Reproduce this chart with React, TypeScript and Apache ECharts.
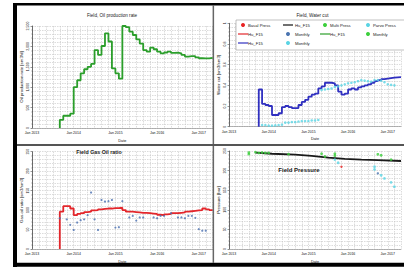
import React, { useEffect, useRef } from 'react';
import * as echarts from 'echarts';

// ---- data (months as YYYY-MM) ----
const OIL_START = '2013-09';
const oilRate = [200, 300, 300, 350, 1000, 1170, 1340, 1440, 1500, 1570, 1910, 1790, 2010, 2320, 2120,
  1460, 1340, 1210, 2500, 2470, 2360, 2280, 2170, 2070, 1910, 1870, 1970, 1930, 1870, 1830,
  1850, 1870, 1840, 1845, 1830, 1790, 1750, 1760, 1760, 1730, 1710, 1705, 1705, 1720];

const WC_START = '2013-10';
const waterCut = [0.36, 0.22, 0.21, 0.20, 0.113, 0.113, 0.13, 0.19, 0.20, 0.19, 0.18, 0.18,
  0.21, 0.24, 0.26, 0.29, 0.31, 0.32, 0.37, 0.39, 0.425, 0.425, 0.42, 0.40, 0.34, 0.31, 0.32,
  0.36, 0.37, 0.36, 0.38, 0.39, 0.40, 0.41, 0.425, 0.44, 0.45, 0.46, 0.465, 0.47, 0.475, 0.478, 0.48];

const WC_OBS_START = '2013-11';
const waterCutMonthly = [0.016, 0.016, 0.01, 0.01, 0.013, 0.016, 0.02, 0.04, 0.04, 0.045, 0.045,
  0.05, 0.055, 0.055, 0.055, 0.06, 0.06, 0.065,
  0.355, 0.36, 0.365, 0.37, 0.385, 0.39, 0.40, 0.41, 0.42, 0.425, 0.43, 0.44, 0.45, 0.445, 0.44,
  0.435, 0.45, 0.45, 0.445, 0.43, 0.41, 0.405, 0.40];

const GOR_START = '2013-09';
const gor = [96, 110, 110, 104, 87, 90, 92, 95, 96, 99, 100, 102, 103, 104, 104, 105, 105, 106,
  100, 96, 96, 95, 94, 93, 93, 92, 91, 90, 88, 87, 89, 90, 92, 92, 93, 94, 96, 97, 98, 99, 100, 104, 102, 100];

const gorObsDates = ['2013-09', '2013-11', '2013-12', '2014-01', '2014-02', '2014-03', '2014-04', '2014-05',
  '2014-06', '2014-07', '2014-08', '2014-09', '2014-10', '2014-11', '2014-12', '2015-01', '2015-02', '2015-03',
  '2015-05', '2015-06', '2015-07', '2015-08', '2015-09', '2015-12', '2016-01', '2016-02', '2016-03', '2016-05',
  '2016-07', '2016-08', '2016-09', '2016-10', '2016-11', '2016-12', '2017-01', '2017-02', '2017-03'];
const gorObs = [79, 76, 62, 49, 68, 74, 76, 87, 145, 76, 49, 126, 122, 123, 126, 55, 56, 123,
  81, 85, 73, 81, 81, 81, 79, 85, 85, 92, 81, 81, 79, 85, 85, 80, 51, 47, 47];

const presSimDates = ['2013-09', '2014-02', '2014-09', '2015-02', '2015-07', '2015-12', '2016-05', '2016-10', '2017-05'];
const presSim = [246, 243, 240.5, 237.5, 233, 230, 228, 226.5, 224.5];

const multiDates = ['2013-07', '2013-07', '2013-09', '2013-10', '2013-11', '2013-12', '2014-01', '2014-07',
  '2015-05', '2015-06', '2015-09', '2015-09', '2016-10', '2016-11', '2017-02'];
const multiPress = [246, 242, 247, 245, 246, 245, 245, 242, 243, 236, 243, 238, 241.5, 239, 228];

const parvoDates = ['2015-09', '2015-10', '2016-09', '2016-09', '2016-11', '2016-12', '2017-02', '2017-03'];
const parvoPress = [228, 220, 210, 203, 188, 180, 170, 159];

const monthlyPresDates = ['2016-10'];
const monthlyPress = [193];

const basalDates = ['2015-11'];
const basalPress = [210];

const legendItems = [
  { name: 'Basal Press', kind: 'dot', color: '#e82222' },
  { name: 'Hu_F15', kind: 'line', color: '#111111' },
  { name: 'Multi Press', kind: 'dot', color: '#3ccf3c' },
  { name: 'Parvo Press', kind: 'dot', color: '#5ad4e4' },
  { name: 'Hu_F15', kind: 'line', color: '#e3262b' },
  { name: 'Monthly', kind: 'dot', color: '#4a74b0' },
  { name: 'Hu_F15', kind: 'line', color: '#2b9e2b' },
  { name: 'Monthly', kind: 'dot', color: '#3ccf3c' },
  { name: 'Hu_F15', kind: 'line', color: '#3030c0' },
  { name: 'Monthly', kind: 'dot', color: '#5ad4e4' },
];

// ---- helpers ----
const mi = (s: string) => {
  const [y, m] = s.split('-').map(Number);
  return (y - 2013) * 12 + (m - 1);
};
const stepData = (start: string, values: number[]) => {
  const s = mi(start);
  const pts: number[][] = [[s, 0]];
  values.forEach((v, i) => pts.push([s + i, v]));
  pts.push([s + values.length, values[values.length - 1]]);
  return pts;
};
const seqData = (start: string, values: number[]) => values.map((v, i) => [mi(start) + i, v]);
const pairData = (dates: string[], values: number[]) => dates.map((d, i) => [mi(d), values[i]]);

const FONT = 'Arial, sans-serif';
const gridLine = { show: true, lineStyle: { color: '#c4c4c4', width: 0.6, type: [1.5, 1] as any } };

const xAxisCfg = (i: number) => ({
  type: 'value', gridIndex: i, min: 0, max: 52, interval: 2,
  axisLine: { show: true, onZero: false, lineStyle: { color: '#888', width: 0.6 } },
  axisTick: { show: false },
  axisLabel: {
    fontSize: 3.5, color: '#111', margin: 3, fontFamily: FONT,
    formatter: (v: number) => (v % 12 === 0 ? 'Jan ' + (2013 + v / 12) : ''),
  },
  splitLine: gridLine,
  name: 'Date', nameLocation: 'middle', nameGap: 10.5,
  nameTextStyle: { fontSize: 3.8, color: '#111', fontFamily: FONT },
});

const yAxisCfg = (i: number, max: number, interval: number, name: string) => ({
  type: 'value', gridIndex: i, min: 0, max, interval,
  axisLine: { show: true, lineStyle: { color: '#333', width: 0.7 } },
  axisTick: { show: true, length: 1.5, lineStyle: { color: '#333', width: 0.5 } },
  minorTick: { show: true, splitNumber: 5, length: 0.8, lineStyle: { color: '#555', width: 0.4 } },
  minorSplitLine: gridLine,
  splitLine: gridLine,
  axisLabel: { rotate: 90, fontSize: 3.5, color: '#111', margin: 2.5, fontFamily: FONT },
  name, nameLocation: 'middle', nameGap: 9, nameRotate: 90,
  nameTextStyle: { fontSize: 4.4, color: '#111', fontFamily: FONT },
});

const lineSeries = (name: string, idx: number, data: number[][], color: string, step: any) => ({
  name, type: 'line', xAxisIndex: idx, yAxisIndex: idx, data, step, symbol: 'none',
  lineStyle: { color, width: 1.8 }, z: 3,
});
const dotSeries = (name: string, idx: number, data: number[][], color: string, size: number) => ({
  name, type: 'scatter', xAxisIndex: idx, yAxisIndex: idx, data, symbolSize: size,
  itemStyle: { color }, z: 4,
});

const colX = [243, 288, 325, 368];
const textX = [248, 295, 330, 373];
const rowY = [25, 34, 43];

const legendGraphics: any[] = [
  { type: 'rect', shape: { x: 236, y: 20, width: 180, height: 30 }, style: { fill: '#fff', stroke: '#999', lineWidth: 0.6 }, z: 20 },
];
legendItems.forEach((it, k) => {
  const c = k % 4;
  const r = Math.floor(k / 4);
  const y = rowY[r];
  if (it.kind === 'dot') {
    legendGraphics.push({ type: 'circle', shape: { cx: colX[c], cy: y, r: 2 }, style: { fill: it.color }, z: 21 });
  } else {
    legendGraphics.push({ type: 'line', shape: { x1: colX[c] - 5, y1: y, x2: colX[c] + 5, y2: y }, style: { stroke: it.color, lineWidth: 1.2 }, z: 21 });
  }
  legendGraphics.push({
    type: 'text', x: textX[c], y, z: 21,
    style: { text: it.name, fill: '#222', font: `4.2px ${FONT}`, verticalAlign: 'middle', align: 'left' },
  });
});

const option: any = {
  animation: false,
  backgroundColor: '#fff',
  textStyle: { fontFamily: FONT },
  grid: [
    { left: 32, top: 26, width: 180.7, height: 102 },
    { left: 229, top: 23.3, width: 180.7, height: 103.4 },
    { left: 32, top: 151.7, width: 180.7, height: 97.3 },
    { left: 229, top: 151, width: 180.7, height: 98 },
  ],
  xAxis: [0, 1, 2, 3].map(xAxisCfg),
  yAxis: [
    yAxisCfg(0, 2500, 500, 'Oil production rate [sm3/d]'),
    yAxisCfg(1, 1, 0.2, 'Water cut [sm3/sm3]'),
    yAxisCfg(2, 250, 50, 'Gas-oil ratio [sm3/sm3]'),
    yAxisCfg(3, 250, 50, 'Pressure [bar]'),
  ],
  series: [
    lineSeries('Hu_F15 oil', 0, stepData(OIL_START, oilRate), '#2b9e2b', 'end'),
    lineSeries('Hu_F15 wc', 1, stepData(WC_START, waterCut), '#3030c0', 'end'),
    dotSeries('Monthly wc', 1, seqData(WC_OBS_START, waterCutMonthly), '#5ad4e4', 2.6),
    lineSeries('Hu_F15 gor', 2, stepData(GOR_START, gor), '#e3262b', 'end'),
    dotSeries('Monthly gor', 2, pairData(gorObsDates, gorObs), '#4a6fb0', 2.2),
    lineSeries('Hu_F15 pres', 3, pairData(presSimDates, presSim), '#1a1a1a', false),
    dotSeries('Multi Press', 3, pairData(multiDates, multiPress), '#3ccf3c', 2.8),
    dotSeries('Parvo Press', 3, pairData(parvoDates, parvoPress), '#5ad4e4', 2.8),
    dotSeries('Monthly pres', 3, pairData(monthlyPresDates, monthlyPress), '#4a74b0', 2.4),
    dotSeries('Basal Press', 3, pairData(basalDates, basalPress), '#e82222', 2.4),
  ],
  graphic: [
    { type: 'rect', shape: { x: 13, y: 3, width: 395, height: 2.5 }, style: { fill: '#000' }, z: 30 },
    { type: 'rect', shape: { x: 13, y: 3, width: 4, height: 264 }, style: { fill: '#000' }, z: 30 },
    { type: 'rect', shape: { x: 13, y: 262.7, width: 395, height: 4 }, style: { fill: '#000' }, z: 30 },
    { type: 'rect', shape: { x: 212.6, y: 5, width: 1.5, height: 258 }, style: { fill: '#666' }, z: 30 },
    { type: 'rect', shape: { x: 17, y: 144, width: 391, height: 2 }, style: { fill: '#555' }, z: 30 },
    { type: 'text', x: 112, y: 15.5, z: 25, style: { text: 'Field, Oil production rate', fill: '#222', font: `4.6px ${FONT}`, align: 'center', verticalAlign: 'middle' } },
    { type: 'text', x: 312.5, y: 15, z: 25, style: { text: 'Field, Water cut', fill: '#222', font: `4.6px ${FONT}`, align: 'center', verticalAlign: 'middle' } },
    { type: 'text', x: 99, y: 151.5, z: 25, style: { text: 'Field Gas Oil ratio', fill: '#222', font: `bold 5.3px ${FONT}`, align: 'center', verticalAlign: 'middle' } },
    { type: 'text', x: 299, y: 170, z: 25, style: { text: 'Field Pressure', fill: '#222', font: `bold 6px ${FONT}`, align: 'center', verticalAlign: 'middle' } },
    ...legendGraphics,
  ],
};

export default function App() {
  const ref = useRef<HTMLDivElement>(null);
  useEffect(() => {
    const chart = echarts.init(ref.current!, null, { renderer: 'svg' });
    chart.setOption(option);
    return () => chart.dispose();
  }, []);
  return (
    <div
      ref={ref}
      style={{ position: 'fixed', left: 0, top: 0, width: 404, height: 268, background: '#fff' }}
    />
  );
}
